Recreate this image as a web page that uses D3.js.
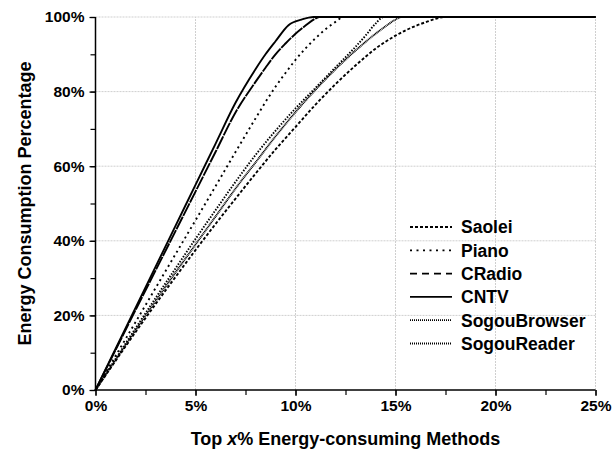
<!DOCTYPE html>
<html>
<head>
<meta charset="utf-8">
<script src="https://cdn.jsdelivr.net/npm/d3@7"></script>
<style>
  body { margin: 0; background: #fff; }
  text { font-family: "Liberation Sans", Arial, sans-serif; font-weight: bold; fill: #000; }
</style>
</head>
<body>
<div id="chart"></div>
<script>
// values (x = top x% of methods, y = % of energy)
var seriesNames = ["Saolei", "Piano", "CRadio", "CNTV", "SogouBrowser", "SogouReader"];

var saoleiX = [0, 1, 2, 3, 4, 5, 6, 7, 8, 9, 10, 11, 12, 13, 14, 15, 16, 16.5, 17, 17.5, 25];
var saoleiY = [0, 7.8, 15.5, 23, 30.3, 37.5, 44.5, 51.3, 58, 64.5, 70.5, 76.5, 82, 87, 91.5, 95, 97.6, 98.6, 99.5, 100, 100];

var pianoX = [0, 1, 2, 3, 4, 5, 6, 7, 8, 8.5, 9, 9.5, 10, 10.5, 11, 11.5, 12, 12.4, 25];
var pianoY = [0, 9.1, 18.2, 27.3, 36.4, 45.5, 54.6, 63.8, 72.8, 77.2, 81.3, 85, 88.5, 91.6, 94.3, 96.7, 98.7, 100, 100];

var cradioX = [0, 1, 2, 3, 4, 5, 6, 7, 8, 8.5, 9, 9.5, 10, 10.5, 11, 11.2, 25];
var cradioY = [0, 10.7, 21.4, 32, 42.6, 53.2, 63.8, 74.4, 82.6, 86.4, 90, 92.9, 95.5, 97.7, 99.6, 100, 100];

var cntvX = [0, 1, 2, 3, 4, 5, 6, 7, 8, 8.5, 9, 9.65, 10.3, 10.9, 25];
var cntvY = [0, 11, 22, 33, 44, 55, 66, 77, 86, 90, 93.5, 97.8, 99.3, 100, 100];

var browserX = [0, 1, 2, 3, 4, 5, 6, 7, 8, 9, 10, 11, 12, 13, 13.5, 14, 14.4, 25];
var browserY = [0, 8.3, 16.5, 24.6, 32.6, 40.5, 48.2, 55.8, 63, 69.5, 75.5, 81, 86.5, 92, 95, 98.2, 100, 100];

var readerX = [0, 1, 2, 3, 4, 5, 6, 7, 8, 9, 10, 11, 12, 13, 14, 14.5, 15, 15.3, 25];
var readerY = [0, 8, 16, 23.8, 31.5, 39, 46.5, 54, 61, 68, 74.5, 80.5, 86, 91, 95.5, 97.5, 99.3, 100, 100];

var xTicks = [0, 5, 10, 15, 20, 25];
var yTicks = [0, 20, 40, 60, 80, 100];

// line looks
var lineDash = ["3,2", "2,3.5", "14,1", null, "1.5,1.5", "1,0.6"];
var legendDash = ["3,2", "2,4.5", "7,5", null, "1,1", "1,1"];

var width = 613, height = 452;
var margin = {top: 17, right: 17.5, bottom: 62, left: 95.5};

var svg = d3.select("#chart").append("svg")
    .attr("width", width)
    .attr("height", height);

var x = d3.scaleLinear().domain([0, 25]).range([margin.left, width - margin.right]);
var y = d3.scaleLinear().domain([0, 100]).range([height - margin.bottom, margin.top]);

// gridlines
var grid = svg.append("g");
grid.selectAll(".gx").data(xTicks.slice(1))
    .enter().append("line")
    .attr("x1", function (d) { return x(d); })
    .attr("x2", function (d) { return x(d); })
    .attr("y1", y(0))
    .attr("y2", y(100))
    .attr("stroke", "#cfcfcf")
    .attr("stroke-dasharray", "2,1");
grid.selectAll(".gy").data(yTicks.slice(1))
    .enter().append("line")
    .attr("x1", x(0))
    .attr("x2", x(25))
    .attr("y1", function (d) { return y(d); })
    .attr("y2", function (d) { return y(d); })
    .attr("stroke", "#cfcfcf")
    .attr("stroke-dasharray", "2,1");

// axes
var fmt = function (d) { return d + "%"; };

var xMinor = svg.append("g")
    .attr("transform", "translate(0," + y(0) + ")")
    .call(d3.axisBottom(x).tickValues(d3.range(0, 25.1, 2.5)).tickSize(5).tickFormat(""));
var xAxis = svg.append("g")
    .attr("transform", "translate(0," + y(0) + ")")
    .call(d3.axisBottom(x).tickValues(xTicks).tickSize(6).tickPadding(4).tickFormat(fmt));

var yMinor = svg.append("g")
    .attr("transform", "translate(" + x(0) + ",0)")
    .call(d3.axisLeft(y).tickValues(d3.range(0, 100.1, 10)).tickSize(5).tickFormat(""));
var yAxis = svg.append("g")
    .attr("transform", "translate(" + x(0) + ",0)")
    .call(d3.axisLeft(y).tickValues(yTicks).tickSize(6).tickPadding(5).tickFormat(fmt));

[xMinor, xAxis, yMinor, yAxis].forEach(function (a) {
    a.select(".domain").attr("stroke", "#000").attr("stroke-width", 1.5);
    a.selectAll(".tick line").attr("stroke", "#000").attr("stroke-width", 1.2);
    a.selectAll(".tick text")
        .style("font-family", '"Liberation Sans", Arial, sans-serif')
        .style("font-weight", "bold")
        .style("font-size", "15.5px")
        .attr("fill", "#000");
});
xAxis.selectAll(".domain").attr("d", "M" + x(0) + ",0H" + x(25));
yAxis.selectAll(".domain").attr("d", "M0," + y(0) + "V" + y(100));
xMinor.select(".domain").remove();
yMinor.select(".domain").remove();

// axis titles
var xTitle = svg.append("text")
    .attr("x", (x(0) + x(25)) / 2)
    .attr("y", 445)
    .attr("text-anchor", "middle")
    .style("font-size", "18px");
xTitle.append("tspan").text("Top ");
xTitle.append("tspan").style("font-style", "italic").text("x");
xTitle.append("tspan").text("% Energy-consuming Methods");

svg.append("text")
    .attr("transform", "translate(31," + ((y(0) + y(100)) / 2) + ") rotate(-90)")
    .attr("text-anchor", "middle")
    .style("font-size", "18px")
    .text("Energy Consumption Percentage");

// curves
var seriesX = [saoleiX, pianoX, cradioX, cntvX, browserX, readerX];
var seriesY = [saoleiY, pianoY, cradioY, cntvY, browserY, readerY];

var line = d3.line()
    .x(function (d) { return x(d[0]); })
    .y(function (d) { return y(d[1]); })
    .curve(d3.curveMonotoneX);

var curves = svg.append("g");
seriesNames.forEach(function (name, i) {
    var pts = seriesX[i].map(function (v, j) { return [v, seriesY[i][j]]; });
    curves.append("path")
        .datum(pts)
        .attr("d", line)
        .attr("fill", "none")
        .attr("stroke", "#000")
        .attr("stroke-width", 1.9)
        .attr("stroke-dasharray", lineDash[i]);
});

// legend
var legend = svg.append("g").attr("transform", "translate(410,227)");
var rows = legend.selectAll("g").data(seriesNames)
    .enter().append("g")
    .attr("transform", function (d, i) { return "translate(0," + (i * 23.3) + ")"; });
rows.append("line")
    .attr("x1", 0)
    .attr("x2", 42)
    .attr("stroke", "#000")
    .attr("stroke-width", 1.8)
    .attr("stroke-dasharray", function (d, i) { return legendDash[i]; });
rows.append("text")
    .attr("x", 51)
    .attr("dy", "0.36em")
    .style("font-size", "17.5px")
    .text(function (d) { return d; });
</script>
</body>
</html>
